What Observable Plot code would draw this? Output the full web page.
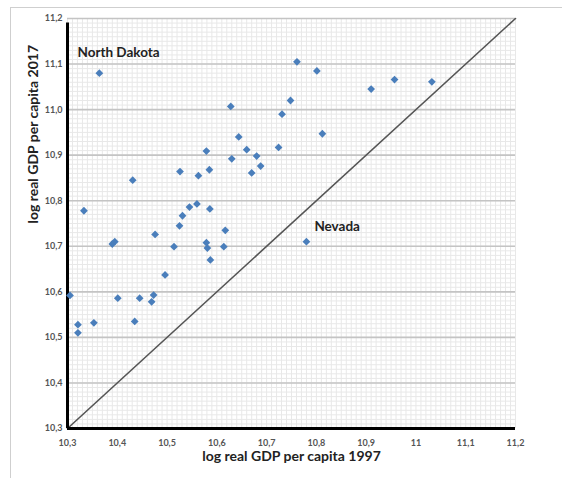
<!DOCTYPE html>
<html>
<head>
<meta charset="utf-8">
<script src="https://cdn.jsdelivr.net/npm/d3@7"></script>
<script src="https://cdn.jsdelivr.net/npm/@observablehq/plot@0.6"></script>
<style>
  html, body { margin: 0; padding: 0; background: #fff; }
  #wrap { position: relative; width: 562px; height: 478px; overflow: hidden; }
  #border { position: absolute; left: 10px; top: 7px; width: 700px; height: 700px; border: 1.5px solid #cfcfcf; box-sizing: border-box; }
  #chart { position: absolute; left: 0; top: 0; }
  svg { font-family: Lato, "Open Sans", sans-serif; }
</style>
</head>
<body>
<div id="wrap"><div id="border"></div><div id="chart"></div></div>
<script>
// log real GDP per capita, 1997 (x) and 2017 (y)
const gdp1997 = [10.364, 10.761, 10.801, 10.910, 10.957, 11.032, 10.628, 10.748, 10.731, 10.812,
  10.644, 10.724, 10.660, 10.579, 10.630, 10.680, 10.688, 10.670, 10.585, 10.526,
  10.563, 10.431, 10.333, 10.560, 10.545, 10.586, 10.531, 10.525, 10.617, 10.476,
  10.390, 10.395, 10.514, 10.579, 10.581, 10.614, 10.587, 10.780, 10.496, 10.305,
  10.401, 10.445, 10.473, 10.469, 10.321, 10.321, 10.353, 10.435];
const gdp2017 = [11.080, 11.105, 11.085, 11.045, 11.066, 11.061, 11.007, 11.020, 10.990, 10.947,
  10.940, 10.917, 10.912, 10.909, 10.892, 10.898, 10.876, 10.861, 10.868, 10.864,
  10.855, 10.845, 10.778, 10.793, 10.786, 10.782, 10.767, 10.745, 10.735, 10.726,
  10.705, 10.710, 10.699, 10.708, 10.696, 10.699, 10.670, 10.710, 10.637, 10.592,
  10.586, 10.586, 10.593, 10.578, 10.528, 10.510, 10.532, 10.535];
const states = gdp1997.map((x, i) => ({x, y: gdp2017[i]}));

const axisDomain = [10.3, 11.2];
const majorTicks = [10.3, 10.4, 10.5, 10.6, 10.7, 10.8, 10.9, 11.0, 11.1, 11.2];
const xTickLabels = ["10,3", "10,4", "10,5", "10,6", "10,7", "10,8", "10,9", "11", "11,1", "11,2"];
const yTickLabels = ["10,3", "10,4", "10,5", "10,6", "10,7", "10,8", "10,9", "11,0", "11,1", "11,2"];
const minorTicks = d3.ticks(10.3, 11.2, 90);

const labelNames = ["North Dakota", "Nevada"];
const labelX = [10.320, 10.796];
const labelY = [11.126, 10.744];
const labels = labelNames.map((t, i) => ({t, x: labelX[i], y: labelY[i]}));

const diagonal = axisDomain;

const fmt = (labs) => (d) => {
  const i = majorTicks.findIndex(t => Math.abs(t - d) < 1e-6);
  return i >= 0 ? labs[i] : "";
};

const chart = Plot.plot({
  width: 562,
  height: 478,
  marginLeft: 67,
  marginRight: 47,
  marginTop: 18,
  marginBottom: 50,
  x: {domain: axisDomain},
  y: {domain: axisDomain},
  style: {background: "transparent", fontFamily: "Lato, 'Open Sans', sans-serif"},
  marks: [
    Plot.gridX(minorTicks, {stroke: "#e8e8e8", strokeOpacity: 1, strokeWidth: 1}),
    Plot.gridY(minorTicks, {stroke: "#e8e8e8", strokeOpacity: 1, strokeWidth: 1}),
    Plot.gridY(majorTicks, {stroke: "#c4c4c4", strokeOpacity: 1, strokeWidth: 1.6}),
    Plot.line(diagonal, {x: d => d, y: d => d, stroke: "#555", strokeWidth: 1.6}),
    Plot.ruleX([axisDomain[0]], {y1: 11.19, y2: axisDomain[0], stroke: "#000", strokeWidth: 3}),
    Plot.ruleY([axisDomain[0]], {stroke: "#000", strokeWidth: 3}),
    Plot.dot(states, {x: "x", y: "y", symbol: "diamond2", r: 3.5, fill: "#4a7ebb", stroke: "none"}),
    Plot.text(labels, {x: "x", y: "y", text: "t", textAnchor: "start", fontSize: 13.5, fontWeight: "bold", fill: "#222"}),
    Plot.axisX(majorTicks, {tickFormat: fmt(xTickLabels), tickSize: 0, tickPadding: 11, fontSize: 9, fontWeight: "bold", fill: "#555", label: null}),
    Plot.axisY(majorTicks, {tickFormat: fmt(yTickLabels), tickSize: 0, tickPadding: 5, fontSize: 9, fontWeight: "bold", fill: "#555", label: null}),
    Plot.text(["log real GDP per capita 1997"], {frameAnchor: "bottom", dy: 32, fontSize: 14, fontWeight: "bold", fill: "#222"}),
    Plot.text(["log real GDP per capita 2017"], {frameAnchor: "left", dx: -34, rotate: -90, fontSize: 14, fontWeight: "bold", fill: "#222"})
  ]
});
document.getElementById("chart").appendChild(chart);
</script>
</body>
</html>
